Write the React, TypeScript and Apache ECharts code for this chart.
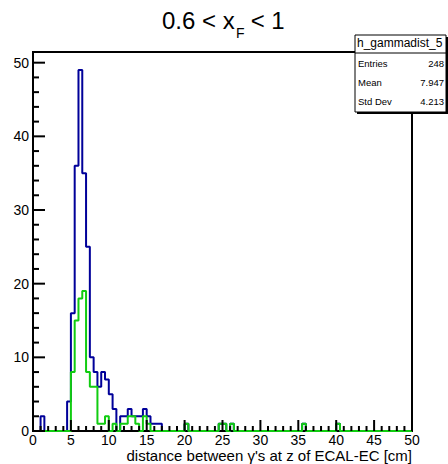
import React, { useEffect, useRef } from "react";
import * as echarts from "echarts";

// Histogram: 100 bins of width 0.5 cm from 0 to 50
const binWidth = 0.5;
const nBins = 100;

// non-empty bins (lower edge) and counts — all photon pairs (blue)
const blueBins = [1.0, 4.5, 5.0, 5.5, 6.0, 6.5, 7.0, 7.5, 8.0, 8.5, 9.0, 9.5, 10.0, 10.5, 11.5, 12.0, 12.5, 13.0, 13.5, 14.0, 14.5, 15.0, 15.5, 16.0, 16.5, 20.0, 24.5, 25.0, 26.0, 35.5, 40.0];
const blueCounts = [2, 4, 16, 36, 49, 35, 25, 10, 8, 6, 8, 7, 5, 3, 2, 2, 3, 2, 2, 2, 3, 2, 1, 1, 1, 1, 1, 1, 1, 1, 1];

// subset (green)
const greenBins = [5.0, 5.5, 6.0, 6.5, 7.0, 7.5, 8.0, 8.5, 9.0, 9.5, 10.5, 11.5, 12.0, 12.5, 13.0, 13.5, 14.5, 15.0, 20.0, 24.5, 25.0, 26.0, 35.5, 40.0];
const greenCounts = [8, 15, 18, 19, 8, 6, 6, 1, 1, 2, 1, 1, 1, 2, 2, 1, 2, 1, 1, 1, 1, 1, 1, 1];

const xTicks = [0, 5, 10, 15, 20, 25, 30, 35, 40, 45, 50];
const yTicks = [0, 10, 20, 30, 40, 50];
const xMinorStep = 1;
const yMinorStep = 2;

const statsName = "h_gammadist_5";
const statsLabels = ["Entries", "Mean", "Std Dev"];
const statsValues = ["248", "7.947", "4.213"];

const FONT = "'Liberation Sans', Arial, Helvetica, sans-serif";

function stepPoints(bins: number[], counts: number[]) {
  const full = new Array(nBins).fill(0);
  bins.forEach((b, i) => {
    full[Math.round(b / binWidth)] = counts[i];
  });
  const pts: number[][] = [];
  for (let i = 0; i < nBins; i++) {
    pts.push([i * binWidth, full[i]]);
    pts.push([(i + 1) * binWidth, full[i]]);
  }
  return pts;
}

function minorList(major: number[], step: number) {
  const out: number[] = [];
  const lo = major[0], hi = major[major.length - 1];
  for (let v = lo; v <= hi + 1e-9; v += step) {
    if (!major.some((m) => Math.abs(m - v) < 1e-9)) out.push(v);
  }
  return out;
}

function tickSeries(values: number[], axis: "x" | "y", len: number) {
  return {
    type: "custom",
    silent: true,
    clip: false,
    z: 10,
    data: values.map((v) => (axis === "x" ? [v, 0] : [0, v])),
    encode: { x: 0, y: 1 },
    renderItem: (_p: any, api: any) => {
      const p = api.coord([api.value(0), api.value(1)]);
      if (axis === "x") {
        return { type: "line", shape: { x1: p[0], y1: p[1], x2: p[0], y2: p[1] - len }, style: { stroke: "#000", lineWidth: 2 } };
      }
      return { type: "line", shape: { x1: p[0], y1: p[1], x2: p[0] + len, y2: p[1] }, style: { stroke: "#000", lineWidth: 2 } };
    },
  };
}

export default function App() {
  const ref = useRef<HTMLDivElement>(null);
  useEffect(() => {
    if (!ref.current) return;
    const chart = echarts.init(ref.current, undefined, { renderer: "svg" });
    const gl = 33, gt = 52, gw = 379, gh = 379;
    const yMax = 51.45;
    const statRows: any[] = [];
    const rowY = [64, 83, 102];
    statsLabels.forEach((l, i) => {
      statRows.push({
        type: "text", left: 358, top: rowY[i] - 6, z: 102,
        style: { text: l, font: `9.5px ${FONT}`, fill: "#000" },
      });
      statRows.push({
        type: "text", right: 4, top: rowY[i] - 6, z: 102,
        style: { text: statsValues[i], font: `9.5px ${FONT}`, fill: "#000", align: "right" },
      });
    });
    chart.setOption({
      animation: false,
      grid: { left: gl, top: gt, width: gw, height: gh, show: true, borderColor: "#000", borderWidth: 2, backgroundColor: "transparent" },
      xAxis: {
        type: "value", min: 0, max: 50, interval: 5,
        axisLine: { show: true, lineStyle: { color: "#000", width: 2 } },
        axisTick: { show: false },
        splitLine: { show: false },
        axisLabel: {
          color: "#000", fontSize: 14, lineHeight: 14, fontFamily: FONT, margin: 2,
          formatter: (v: number) => (xTicks.includes(v) ? String(v) : ""),
        },
      },
      yAxis: {
        type: "value", min: 0, max: yMax, interval: 10,
        axisLine: { show: true, lineStyle: { color: "#000", width: 2 } },
        axisTick: { show: false },
        splitLine: { show: false },
        axisLabel: {
          color: "#000", fontSize: 14, fontFamily: FONT, margin: 4,
          formatter: (v: number) => (yTicks.includes(v) ? String(v) : ""),
        },
      },
      series: [
        {
          type: "line", data: stepPoints(blueBins, blueCounts), showSymbol: false, symbol: "none",
          lineStyle: { color: "#000099", width: 2 }, z: 3, clip: true,
        },
        {
          type: "line", data: stepPoints(greenBins, greenCounts), showSymbol: false, symbol: "none",
          lineStyle: { color: "#11cc11", width: 2 }, z: 4, clip: true,
        },
        tickSeries(xTicks, "x", 11),
        tickSeries(minorList(xTicks, xMinorStep), "x", 5),
        tickSeries(yTicks, "y", 12),
        tickSeries(minorList(yTicks, yMinorStep), "y", 6),
      ],
      graphic: [
        { type: "text", left: 162, top: 8, style: { text: "0.6 < x", font: `24px ${FONT}`, fill: "#000" } },
        { type: "text", left: 236, top: 26, style: { text: "F", font: `14px ${FONT}`, fill: "#000" } },
        { type: "text", left: 244, top: 8, style: { text: " < 1", font: `24px ${FONT}`, fill: "#000" } },
        {
          type: "text", right: 36, top: 448,
          style: { text: "distance between γ's at z of ECAL-EC [cm]", font: `15px ${FONT}`, lineHeight: 15, fill: "#000", align: "right" },
        },
        { type: "rect", z: 100, shape: { x: 357, y: 37, width: 91, height: 77 }, style: { fill: "#000" } },
        { type: "rect", z: 101, shape: { x: 355, y: 35, width: 91, height: 77 }, style: { fill: "#fff", stroke: "#000", lineWidth: 1 } },
        { type: "line", z: 102, shape: { x1: 355, y1: 53, x2: 446, y2: 53 }, style: { stroke: "#000", lineWidth: 1 } },
        {
          type: "text", z: 102, left: 357, top: 37,
          style: { text: statsName, font: `12px ${FONT}`, fill: "#000" },
        },
        ...statRows,
      ],
    });
    return () => chart.dispose();
  }, []);
  return <div ref={ref} style={{ width: 448, height: 464, position: "absolute", left: 0, top: 0, background: "#fff" }} />;
}
